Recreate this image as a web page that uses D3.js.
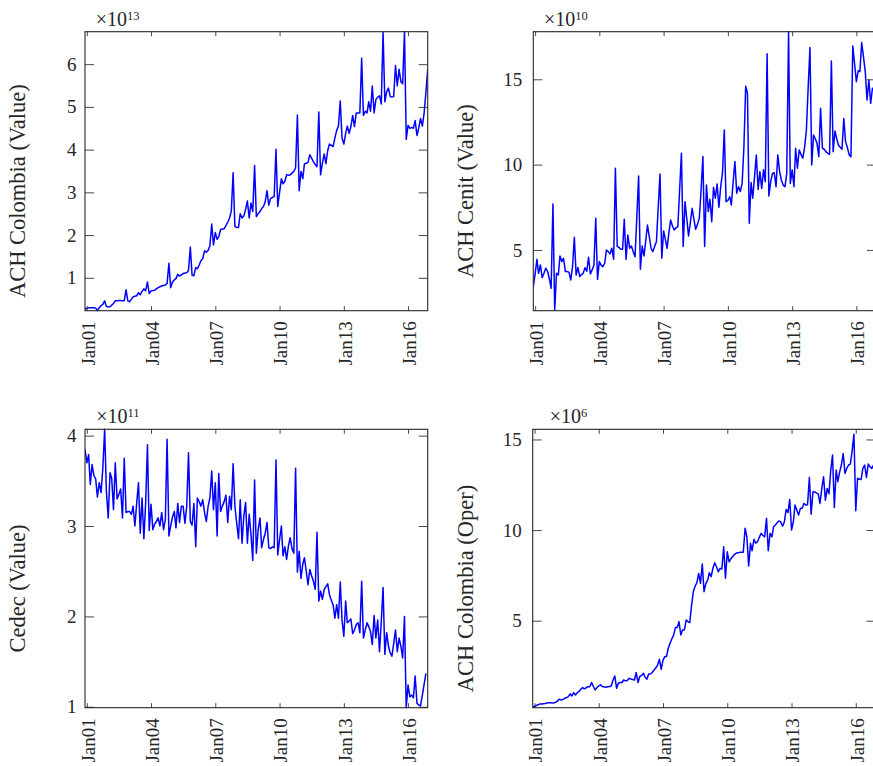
<!DOCTYPE html>
<html>
<head>
<meta charset="utf-8">
<script src="https://cdn.jsdelivr.net/npm/d3@7"></script>
<style>
  html, body { margin: 0; padding: 0; background: #fff; }
  svg { display: block; }
  text { font-family: "Liberation Serif", "Times New Roman", serif; fill: #262626; }
</style>
</head>
<body>
<svg id="chart" width="873" height="766"></svg>
<script>
// ---------- DATA (monthly, Dec 2000 .. Dec 2016) ----------
const startMonth = new Date(2000, 11, 1);
const endMonth = new Date(2016, 11, 1);

const yLabels = ["ACH Colombia (Value)", "ACH Cenit (Value)", "Cedec (Value)", "ACH Colombia (Oper)"];
const exponents = ["13", "10", "11", "6"];
const yTickValues = [[1, 2, 3, 4, 5, 6], [5, 10, 15], [1, 2, 3, 4], [5, 10, 15]];
const yDomains = [[0.23, 6.76], [1.44, 17.79], [0.99, 4.07], [0.2, 15.56]];
const xTickYears = [2001, 2004, 2007, 2010, 2013, 2016];

// ACH Colombia (Value), x10^13
const achColombiaValue = [0.26,
  0.29, 0.30, 0.30, 0.30, 0.30, 0.29, 0.23, 0.30, 0.35, 0.38, 0.46, 0.33,
  0.32, 0.32, 0.36, 0.40, 0.46, 0.46, 0.47, 0.47, 0.46, 0.46, 0.72, 0.46,
  0.44, 0.50, 0.55, 0.57, 0.58, 0.65, 0.60, 0.68, 0.74, 0.70, 0.90, 0.63,
  0.69, 0.70, 0.71, 0.74, 0.77, 0.79, 0.81, 0.82, 0.83, 0.87, 1.34, 0.77,
  0.90, 0.95, 0.98, 1.08, 1.04, 1.07, 1.10, 1.11, 1.12, 1.17, 1.72, 1.06,
  1.05, 1.24, 1.21, 1.30, 1.40, 1.45, 1.63, 1.60, 1.64, 1.75, 2.26, 1.77,
  2.06, 1.90, 1.96, 2.13, 2.14, 2.15, 2.22, 2.30, 2.40, 2.56, 3.46, 2.20,
  2.18, 2.18, 2.50, 2.40, 2.45, 2.60, 2.80, 2.40, 2.75, 2.55, 3.63, 2.43,
  2.50, 2.55, 2.62, 2.67, 2.78, 3.04, 2.70, 2.86, 2.88, 2.90, 4.01, 2.67,
  3.00, 3.32, 3.20, 3.26, 3.41, 3.40, 3.41, 3.45, 3.49, 3.57, 4.81, 3.04,
  3.49, 3.32, 3.67, 3.68, 3.70, 3.88, 3.80, 3.72, 3.65, 3.60, 4.88, 3.41,
  3.68, 3.90, 3.67, 3.98, 4.13, 4.10, 4.07, 4.27, 4.45, 4.55, 5.14, 4.27,
  4.13, 4.38, 4.55, 4.38, 4.54, 4.80, 4.54, 4.86, 4.86, 4.86, 6.14, 4.80,
  4.90, 4.86, 5.12, 4.90, 5.49, 4.86, 5.17, 5.23, 5.26, 5.07, 6.74, 5.12,
  5.35, 5.44, 5.25, 5.23, 5.24, 5.97, 5.49, 5.88, 5.59, 5.54, 6.76, 4.24,
  4.57, 4.50, 4.52, 4.50, 4.68, 4.33, 4.50, 4.73, 4.55, 4.86, 5.35, 5.88];

// ACH Cenit (Value), x10^10
const achCenitValue = [2.85,
  3.60, 4.45, 3.63, 4.12, 3.38, 3.63, 3.93, 3.75, 3.30, 2.75, 7.70, 1.48,
  3.63, 3.53, 4.65, 4.32, 4.51, 3.73, 3.73, 3.70, 3.24, 4.02, 5.74, 3.53,
  3.98, 3.44, 3.55, 3.63, 3.96, 3.75, 4.57, 3.59, 3.83, 4.12, 6.86, 3.28,
  4.32, 4.10, 4.02, 4.22, 5.00, 4.90, 4.77, 5.10, 4.45, 9.79, 5.20, 5.15,
  5.04, 5.04, 6.80, 4.45, 5.88, 5.10, 5.23, 4.90, 4.60, 6.90, 9.34, 3.87,
  5.23, 4.65, 5.50, 6.46, 5.80, 5.10, 4.90, 5.20, 5.49, 7.50, 9.45, 4.51,
  6.11, 5.60, 5.10, 6.00, 6.76, 6.40, 6.17, 6.30, 6.37, 8.50, 10.66, 5.20,
  7.83, 6.80, 5.82, 6.60, 7.44, 6.80, 6.21, 6.50, 6.86, 8.50, 10.47, 5.20,
  8.81, 7.25, 7.97, 6.66, 8.67, 8.03, 8.87, 7.50, 8.71, 9.50, 12.03, 7.83,
  7.90, 8.12, 7.64, 9.00, 10.18, 8.32, 8.71, 8.42, 8.90, 11.00, 14.60, 14.20,
  6.56, 8.95, 8.03, 9.30, 10.57, 8.55, 9.59, 8.61, 9.70, 9.00, 16.50, 8.16,
  9.00, 9.49, 9.53, 8.71, 10.57, 9.60, 9.10, 8.80, 8.71, 9.49, 17.79, 8.90,
  9.69, 8.71, 10.96, 9.79, 10.86, 10.60, 10.37, 11.00, 12.03, 14.50, 16.86, 9.98,
  11.74, 11.50, 11.25, 10.47, 13.30, 10.96, 10.90, 10.76, 10.66, 10.60, 16.07, 10.76,
  11.97, 11.50, 11.15, 11.02, 10.90, 12.71, 11.35, 11.00, 10.57, 10.47, 16.95, 15.94,
  14.86, 15.50, 15.45, 17.15, 16.33, 15.45, 13.79, 14.96, 13.59, 14.47, 14.30, 15.00];

// Cedec (Value), x10^11 (ends Nov 2016)
const cedecValue = [3.85,
  3.70, 3.79, 3.46, 3.68, 3.56, 3.52, 3.32, 3.48, 3.37, 3.64, 4.07, 3.38,
  3.09, 3.59, 3.53, 3.18, 3.70, 3.30, 3.35, 3.41, 3.09, 3.75, 3.15, 3.16,
  3.16, 3.13, 3.22, 3.00, 3.25, 3.48, 2.92, 3.31, 2.86, 3.25, 3.90, 2.95,
  3.24, 2.96, 3.02, 3.05, 3.09, 3.00, 3.15, 2.96, 3.07, 3.96, 2.89, 3.00,
  3.10, 3.16, 2.98, 3.25, 3.04, 3.22, 3.22, 3.03, 3.22, 3.81, 3.05, 3.01,
  3.25, 2.77, 3.31, 3.27, 3.22, 3.29, 3.15, 3.05, 3.22, 3.31, 3.61, 3.18,
  3.48, 2.89, 3.58, 3.16, 3.22, 3.27, 3.34, 3.04, 3.33, 3.18, 3.69, 3.22,
  3.03, 2.86, 3.29, 2.81, 3.11, 3.26, 2.81, 3.13, 2.90, 2.62, 3.51, 2.70,
  2.96, 3.09, 2.76, 2.85, 2.92, 3.04, 2.76, 2.75, 2.77, 2.76, 3.73, 2.68,
  2.85, 3.00, 2.67, 2.77, 2.63, 2.78, 2.87, 2.75, 2.70, 3.64, 2.49, 2.72,
  2.42, 2.58, 2.65, 2.50, 2.35, 2.52, 2.45, 2.39, 2.30, 2.93, 2.17, 2.28,
  2.19, 2.30, 2.33, 2.36, 2.24, 2.18, 2.13, 1.98, 2.13, 1.98, 2.38, 1.96,
  1.78, 2.17, 1.93, 1.95, 1.97, 1.81, 1.85, 1.91, 1.93, 1.82, 2.39, 1.76,
  1.85, 1.93, 1.89, 1.83, 1.69, 2.01, 1.76, 1.96, 1.61, 1.94, 2.32, 1.58,
  1.82, 1.67, 1.60, 1.56, 1.70, 1.85, 1.61, 1.76, 1.67, 1.54, 2.00, 0.99,
  1.24, 1.11, 1.13, 1.10, 1.34, 1.04, 1.02, 1.01, 1.13, 1.25, 1.37];

// ACH Colombia (Oper), x10^6
const achColombiaOper = [0.22,
  0.28, 0.32, 0.36, 0.41, 0.41, 0.42, 0.43, 0.46, 0.48, 0.47, 0.46, 0.47,
  0.50, 0.59, 0.67, 0.62, 0.66, 0.72, 0.76, 0.81, 0.96, 0.85, 1.03, 0.90,
  1.03, 1.10, 1.22, 1.31, 1.24, 1.30, 1.36, 1.36, 1.59, 1.37, 1.18, 1.31,
  1.40, 1.46, 1.37, 1.35, 1.33, 1.35, 1.37, 1.40, 1.73, 1.95, 1.27, 1.55,
  1.59, 1.59, 1.73, 1.68, 1.70, 1.82, 1.78, 1.76, 1.73, 2.14, 1.59, 1.92,
  1.98, 2.10, 1.88, 1.77, 2.06, 2.06, 2.14, 2.28, 2.40, 2.55, 2.87, 2.32,
  2.83, 3.02, 3.02, 3.48, 3.76, 4.00, 4.20, 4.62, 4.62, 4.95, 4.21, 4.49,
  4.49, 5.04, 4.95, 4.89, 5.80, 6.60, 6.90, 7.10, 7.61, 7.06, 8.13, 6.60,
  7.06, 7.24, 7.65, 7.43, 7.89, 8.20, 7.98, 7.70, 7.89, 7.85, 9.08, 7.34,
  8.80, 8.25, 8.40, 8.53, 8.65, 8.72, 8.75, 8.77, 8.77, 8.78, 10.10, 9.63,
  8.02, 9.27, 8.86, 9.49, 9.27, 9.36, 9.60, 9.82, 9.70, 9.63, 10.65, 8.86,
  9.82, 9.63, 10.18, 10.28, 10.40, 10.50, 10.45, 10.22, 10.45, 11.14, 10.96, 11.69,
  10.00, 10.46, 11.38, 11.10, 10.83, 11.20, 11.20, 11.47, 11.38, 11.40, 12.90, 10.88,
  12.11, 12.10, 12.05, 12.00, 11.47, 12.30, 12.94, 11.65, 12.30, 12.00, 13.31, 14.14,
  11.25, 13.31, 12.67, 13.20, 13.59, 14.23, 13.12, 13.40, 13.59, 13.64, 14.40, 15.29,
  11.07, 12.86, 12.80, 12.79, 13.40, 13.59, 12.90, 13.64, 13.49, 13.40, 13.60, 13.50];

const seriesList = [achColombiaValue, achCenitValue, cedecValue, achColombiaOper];

// ---------- LAYOUT ----------
const layout = [
  { left: 85,  top: 31.7,  w: 342.7, h: 279,   gap: 8.5 },
  { left: 533.3, top: 31.7, w: 342.7, h: 279,  gap: 11 },
  { left: 85,  top: 429.3, w: 342.7, h: 278.4, gap: 8.5 },
  { left: 532.7, top: 429.3, w: 342.7, h: 278.4, gap: 11 }
];

const svg = d3.select("#chart");
const months = d3.timeMonth.range(startMonth, d3.timeMonth.offset(endMonth, 1));
const fmt = d3.timeFormat("%b%y");
const xTicks = xTickYears.map(yr => new Date(yr, 0, 1));

seriesList.forEach((vals, p) => {
  const L = layout[p];
  const data = vals.map((v, i) => ({ date: months[i], v: v }));
  const x = d3.scaleTime().domain([startMonth, endMonth]).range([L.left, L.left + L.w]);
  const y = d3.scaleLinear().domain(yDomains[p]).range([L.top + L.h, L.top]);

  const g = svg.append("g");

  g.append("clipPath").attr("id", "clip" + p)
    .append("rect").attr("x", L.left).attr("y", L.top - 1).attr("width", L.w).attr("height", L.h + 2);

  // line
  g.append("path")
    .datum(data)
    .attr("clip-path", "url(#clip" + p + ")")
    .attr("fill", "none")
    .attr("stroke", "#0000ff")
    .attr("stroke-width", 1.5)
    .attr("stroke-linejoin", "round")
    .attr("d", d3.line().x(d => x(d.date)).y(d => y(d.v)));

  const tickColor = "#333";

  // bottom axis
  const gb = g.append("g").attr("transform", `translate(0,${L.top + L.h})`)
    .call(d3.axisBottom(x).tickValues(xTicks).tickFormat(fmt).tickSizeInner(-4.5).tickSizeOuter(0));
  gb.select(".domain").remove();
  gb.selectAll("line").attr("stroke", tickColor).attr("stroke-width", 0.9);
  gb.selectAll("text")
    .attr("transform", "rotate(-90)")
    .attr("x", -10.5).attr("y", 1).attr("dy", "0.33em")
    .style("text-anchor", "end")
    .style("font-size", "19px")
    .attr("fill", "#262626");

  // top axis (ticks only)
  const gt = g.append("g").attr("transform", `translate(0,${L.top})`)
    .call(d3.axisTop(x).tickValues(xTicks).tickFormat("").tickSizeInner(-4.5).tickSizeOuter(0));
  gt.select(".domain").remove();
  gt.selectAll("line").attr("stroke", tickColor).attr("stroke-width", 0.9);

  // left axis
  const gl = g.append("g").attr("transform", `translate(${L.left},0)`)
    .call(d3.axisLeft(y).tickValues(yTickValues[p]).tickFormat(d3.format("d")).tickSizeInner(-9).tickSizeOuter(0).tickPadding(L.gap));
  gl.select(".domain").remove();
  gl.selectAll("line").attr("stroke", tickColor).attr("stroke-width", 0.9);
  gl.selectAll("text").style("font-size", "19px").attr("fill", "#262626");

  // right axis (ticks only)
  const gr = g.append("g").attr("transform", `translate(${L.left + L.w},0)`)
    .call(d3.axisRight(y).tickValues(yTickValues[p]).tickFormat("").tickSizeInner(-9).tickSizeOuter(0));
  gr.select(".domain").remove();
  gr.selectAll("line").attr("stroke", tickColor).attr("stroke-width", 0.9);

  // box
  g.append("rect")
    .attr("x", L.left).attr("y", L.top).attr("width", L.w).attr("height", L.h)
    .attr("fill", "none").attr("stroke", "#262626").attr("stroke-width", 1.1);

  // exponent label
  const ex = g.append("text")
    .attr("x", L.left + 54.5).attr("y", L.top - 6)
    .style("text-anchor", "end")
    .style("font-size", "20px");
  ex.append("tspan").text("\u00d710");
  ex.append("tspan").attr("dy", -6).style("font-size", "12.5px").text(exponents[p]);

  // y label
  g.append("text")
    .attr("transform", `translate(${L.left - 68},${L.top + L.h / 2 + 20}) rotate(-90)`)
    .attr("dy", "0.35em")
    .style("text-anchor", "middle")
    .style("font-size", "22.5px")
    .text(yLabels[p]);
});
</script>
</body>
</html>
